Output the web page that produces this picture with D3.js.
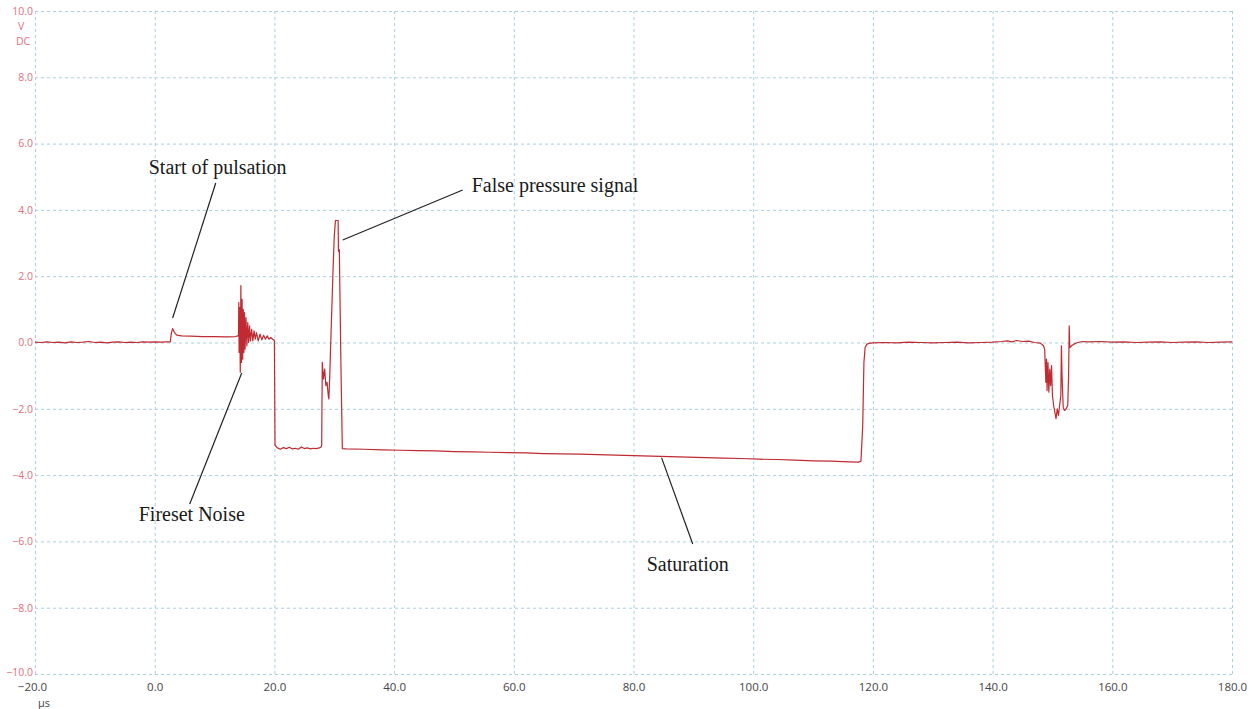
<!DOCTYPE html>
<html>
<head>
<meta charset="utf-8">
<script src="https://cdn.jsdelivr.net/npm/d3@7"></script>
<style>
  html, body { margin: 0; padding: 0; background: #ffffff; }
  svg { display: block; }
</style>
</head>
<body>
<svg id="chart" width="1250" height="709"></svg>
<script>
// Axis ticks
const xTicks = [-20, 0, 20, 40, 60, 80, 100, 120, 140, 160, 180];
const yTicks = [-10, -8, -6, -4, -2, 0, 2, 4, 6, 8, 10];

// Recorded trace: time (µs) and voltage (V DC)
const traceTime = [
  -20, -19, -18, -17, -16, -15, -14, -13, -12, -11, -10, -9, -8, -7, -6, -5, -4, -3, -2, -1, 0, 1, 2, 2.6,
  2.8, 3.0, 3.3, 3.7, 4.5, 6, 8, 10, 12, 13.5, 13.9,
  14.0, 14.05, 14.1, 14.2, 14.3, 14.4, 14.5, 14.6, 14.7, 14.8, 14.9, 15.0, 15.1, 15.25, 15.4, 15.55, 15.7, 15.85,
  16.0, 16.2, 16.4, 16.6, 16.8, 17.0, 17.3, 17.6, 17.9, 18.2, 18.5, 18.8, 19.1, 19.4, 19.7, 19.9, 20.0,
  20.1, 20.5, 21, 21.5, 22, 22.5, 23, 23.5, 24, 24.5, 25, 25.5, 26, 26.5, 27, 27.5, 27.8,
  27.9, 28.0, 28.2, 28.4, 28.6, 28.8, 29.0, 29.1, 29.25, 29.5, 29.8, 30.0, 30.2, 30.65, 30.7, 30.85, 31.1, 31.35,
  32, 35, 38, 41, 44, 47, 50, 53, 56, 59, 62, 65, 68, 71, 74, 77, 80, 83, 86, 89, 92, 95, 98, 101, 104, 107, 110, 113, 116, 117.6,
  118.0, 118.3, 118.5, 118.7, 119.0, 119.5,
  120, 122, 124, 126, 128, 130, 132, 134, 136, 138, 140, 141.5, 142.5, 143.2, 144, 145, 146, 147, 148, 148.5,
  148.7, 148.9, 149.0, 149.1, 149.25, 149.4, 149.55, 149.7, 149.85, 150.0, 150.2, 150.4, 150.6, 150.8, 151.0, 151.2, 151.4,
  151.5, 151.6, 151.8, 152.0, 152.3, 152.55, 152.7, 152.8, 152.9, 153.2, 153.6, 154.2,
  155, 156, 158, 160, 162, 164, 166, 168, 170, 172, 174, 176, 178, 180
];
const traceVolts = [
  0.01, 0.0, 0.02, 0.0, 0.01, -0.01, 0.02, 0.0, 0.01, 0.03, 0.0, 0.01, -0.01, 0.01, 0.02, 0.0, 0.01, 0.0, 0.02, 0.01, 0.02, 0.01, 0.02, 0.02,
  0.3, 0.42, 0.3, 0.22, 0.2, 0.19, 0.18, 0.18, 0.17, 0.18, 0.2,
  0.2, 1.2, -0.3, 1.05, -0.9, 1.72, -0.6, 1.3, -0.5, 1.0, -0.3, 0.9, -0.2, 0.75, -0.1, 0.6, 0.0, 0.5,
  0.05, 0.4, 0.05, 0.35, 0.1, 0.3, 0.05, 0.25, 0.08, 0.22, 0.1, 0.2, 0.1, 0.15, 0.1, 0.08, 0.05,
  -3.1, -3.18, -3.22, -3.17, -3.2, -3.16, -3.21, -3.19, -3.22, -3.15, -3.2, -3.18, -3.21, -3.19, -3.2, -3.18, -3.15,
  -3.1, -0.6, -1.1, -0.8, -1.3, -1.2, -1.6, -1.7, -1.0, 0.5, 2.2, 3.2, 3.68, 3.68, 2.75, 2.8, -0.5, -3.2,
  -3.21, -3.22, -3.24, -3.25, -3.26, -3.27, -3.29, -3.3, -3.31, -3.32, -3.33, -3.35, -3.36, -3.37, -3.38, -3.4, -3.41, -3.43, -3.44, -3.46, -3.47, -3.49, -3.5, -3.52, -3.53, -3.55, -3.57, -3.58, -3.6, -3.61,
  -3.58, -2.5, -0.6, -0.15, -0.05, -0.02,
  -0.01, 0.0, -0.01, 0.01, 0.0, -0.01, 0.0, 0.01, -0.01, 0.0, 0.01, 0.03, 0.05, 0.02, 0.06, 0.03, 0.04, 0.0, -0.02, -0.1,
  -0.2, -1.2, -0.5, -1.45, -0.6, -1.5, -0.8, -1.3, -0.7, -1.6, -1.9, -2.1, -2.3, -2.0, -2.2, -1.9, -1.6,
  -0.1, -1.0, -1.95, -2.05, -2.0, -1.9, -1.0, 0.5, -0.15, -0.1, -0.05, 0.0,
  0.03, 0.02, 0.03, 0.01, 0.02, 0.0, 0.01, 0.02, 0.0, 0.01, 0.02, 0.0, 0.01, 0.02
];

// Annotation labels, text anchors and leader lines (data units)
const annoLabels = ["Start of pulsation", "False pressure signal", "Fireset Noise", "Saturation"];
const annoTextX  = [-1.0, 52.97, -2.67, 82.2];
const annoTextY  = [5.08, 4.54, -5.38, -6.89];
const annoFromX  = [10.2, 51.46, 5.85, 89.9];
const annoFromY  = [4.81, 4.6, -4.87, -6.08];
const annoToX    = [3.0, 31.41, 14.54, 84.7];
const annoToY    = [0.74, 3.09, -0.92, -3.48];

const svg = d3.select("#chart");
const x = d3.scaleLinear().domain([-20, 180]).range([35, 1232]);
const y = d3.scaleLinear().domain([-10, 10]).range([674, 11]);

const gridColor = "#a8d0de";
const fmt = d3.format(".1f");
const uiFont = "'Open Sans', 'Noto Sans', sans-serif";

// Dashed grid
const grid = svg.append("g");
grid.selectAll("line.v").data(xTicks).join("line")
  .attr("x1", d => x(d) + 0.5).attr("x2", d => x(d) + 0.5)
  .attr("y1", y(10)).attr("y2", y(-10))
  .attr("stroke", gridColor).attr("stroke-width", 1).attr("stroke-dasharray", "3,3");
grid.selectAll("line.h").data(yTicks).join("line")
  .attr("x1", x(-20)).attr("x2", x(180))
  .attr("y1", d => y(d) + 0.5).attr("y2", d => y(d) + 0.5)
  .attr("stroke", gridColor).attr("stroke-width", 1).attr("stroke-dasharray", "3,3");

// Y axis labels
const yAxis = d3.axisLeft(y).tickValues(yTicks).tickFormat(fmt).tickSize(0).tickPadding(2);
const yg = svg.append("g").attr("transform", `translate(${x(-20)},0)`).call(yAxis);
yg.select(".domain").remove();
yg.selectAll("text")
  .attr("fill", "#e0707e")
  .style("font-family", uiFont)
  .style("font-size", "10.5px");
yg.selectAll(".tick").filter(d => d === -10).select("text").attr("dy", "0.1em");

svg.append("text").attr("x", 18).attr("y", y(10) + 19)
  .attr("fill", "#e0707e").style("font-family", uiFont).style("font-size", "10.5px").text("V");
svg.append("text").attr("x", 16).attr("y", y(10) + 34)
  .attr("fill", "#e0707e").style("font-family", uiFont).style("font-size", "10.5px").text("DC");

// X axis labels
const xAxis = d3.axisBottom(x).tickValues(xTicks).tickFormat(fmt).tickSize(0).tickPadding(9);
const xg = svg.append("g").attr("transform", `translate(0,${y(-10)})`).call(xAxis);
xg.select(".domain").remove();
xg.selectAll("text")
  .attr("fill", "#444")
  .style("font-family", uiFont)
  .style("font-size", "11.5px");
xg.selectAll(".tick").filter(d => d === -20).select("text").attr("dx", "-3");

svg.append("text").attr("x", 38).attr("y", 707)
  .attr("fill", "#444").style("font-family", uiFont).style("font-size", "11px").text("µs");

// Trace
const pts = traceTime.map((t, i) => [t, traceVolts[i]]);
const line = d3.line().x(d => x(d[0])).y(d => y(d[1]));
svg.append("path").datum(pts)
  .attr("d", line)
  .attr("fill", "none")
  .attr("stroke", "#bf2a33")
  .attr("stroke-width", 1.2)
  .attr("stroke-linejoin", "round");

// Annotations
const anno = svg.append("g");
anno.selectAll("line").data(annoLabels).join("line")
  .attr("x1", (d, i) => x(annoFromX[i])).attr("y1", (d, i) => y(annoFromY[i]))
  .attr("x2", (d, i) => x(annoToX[i])).attr("y2", (d, i) => y(annoToY[i]))
  .attr("stroke", "#222").attr("stroke-width", 1.2);
anno.selectAll("text").data(annoLabels).join("text")
  .attr("x", (d, i) => x(annoTextX[i])).attr("y", (d, i) => y(annoTextY[i]))
  .attr("fill", "#1a1a1a")
  .style("font-family", "'Liberation Serif', 'Times New Roman', serif")
  .style("font-size", "20px")
  .text(d => d);
</script>
</body>
</html>
